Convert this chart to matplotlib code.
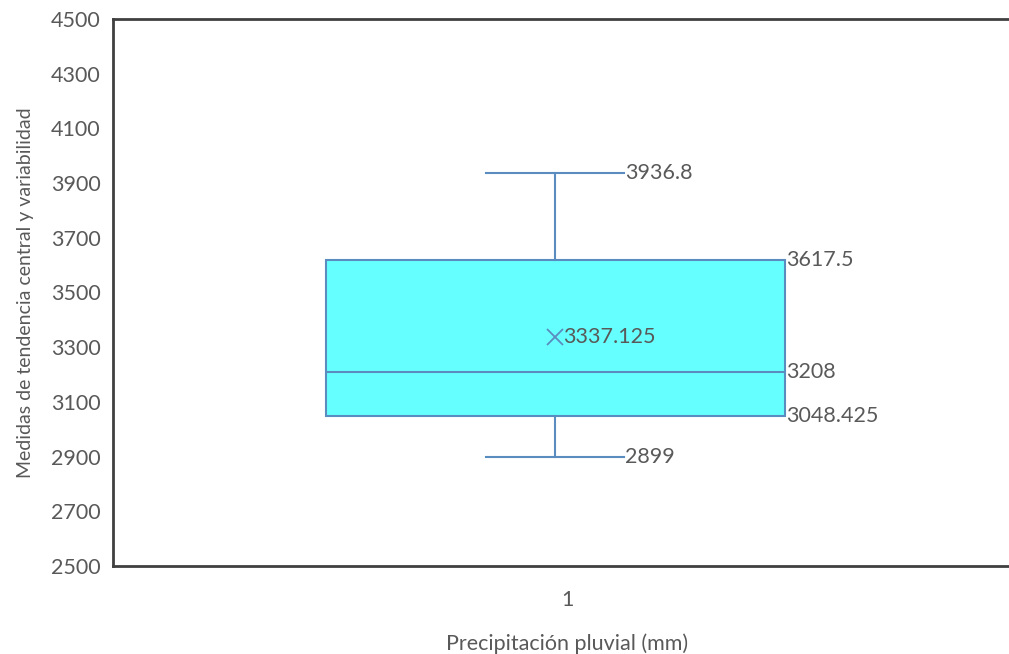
import matplotlib
matplotlib.use("Agg")
import matplotlib.pyplot as plt

# Five-number summary and mean of annual rainfall
category = ["1"]
whisker_low = [2899]
q1 = [3048.425]
median = [3208]
q3 = [3617.5]
whisker_high = [3936.8]
mean = [3337.125]

y_ticks = [2500, 2700, 2900, 3100, 3300, 3500, 3700, 3900, 4100, 4300, 4500]

plt.rcParams["font.family"] = ["Lato", "DejaVu Sans"]
text_color = "#595959"
edge_color = "#5B8CC0"
fill_color = "#66FFFF"

W, H = 1009, 654
fig = plt.figure(figsize=(W / 100, H / 100), dpi=100)
ax = fig.add_axes([113 / W, (H - 566) / H, (1021 - 113) / W, (566 - 19) / H])

stats = [{
    "label": category[0],
    "whislo": whisker_low[0],
    "q1": q1[0],
    "med": median[0],
    "q3": q3[0],
    "whishi": whisker_high[0],
    "mean": mean[0],
    "fliers": [],
}]

box_pos = 0.9868
box_width = 0.5055
cap_width = 0.152

ax.bxp(
    stats,
    positions=[box_pos],
    widths=box_width,
    capwidths=cap_width,
    showmeans=True,
    patch_artist=True,
    showfliers=False,
    boxprops=dict(facecolor=fill_color, edgecolor=edge_color, linewidth=1.5),
    medianprops=dict(color=edge_color, linewidth=1.5),
    whiskerprops=dict(color=edge_color, linewidth=1.5),
    capprops=dict(color=edge_color, linewidth=1.5),
    meanprops=dict(marker="x", markeredgecolor=edge_color, markersize=12,
                   markeredgewidth=1.3),
)


def fmt(v):
    return f"{v:.10g}"


# Value labels
lab_kw = dict(color=text_color, fontsize=15.5, va="center", ha="left",
              textcoords="offset points")
cap_right = box_pos + cap_width / 2
box_right = box_pos + box_width / 2
ax.annotate(fmt(whisker_high[0]), (cap_right, whisker_high[0]), xytext=(1, 0), **lab_kw)
ax.annotate(fmt(whisker_low[0]), (cap_right, whisker_low[0]), xytext=(1, 0), **lab_kw)
ax.annotate(fmt(q3[0]), (box_right, q3[0]), xytext=(1, 0), **lab_kw)
ax.annotate(fmt(median[0]), (box_right, median[0]), xytext=(1, 0), **lab_kw)
ax.annotate(fmt(q1[0]), (box_right, q1[0]), xytext=(1, 0), **lab_kw)
ax.annotate(fmt(mean[0]), (box_pos, mean[0]), xytext=(6, 0), **lab_kw)

ax.set_xlim(0.5, 1.5)
ax.set_ylim(2500, 4500)
ax.set_xticks([1])
ax.set_xticklabels(category)
ax.set_yticks(y_ticks)
ax.tick_params(axis="both", length=0, labelsize=15.5, colors=text_color)
ax.tick_params(axis="y", pad=9)
ax.tick_params(axis="x", pad=17)

for side in ["left", "bottom", "top"]:
    ax.spines[side].set_color("#404040")
    ax.spines[side].set_linewidth(2)
ax.spines["right"].set_visible(False)

ax.set_xlabel("Precipitación pluvial (mm)", fontsize=15.5, color=text_color, labelpad=17)
ax.set_ylabel("Medidas de tendencia central y variabilidad", fontsize=14,
              color=text_color, labelpad=12)

fig.savefig("out.png", dpi=100)
